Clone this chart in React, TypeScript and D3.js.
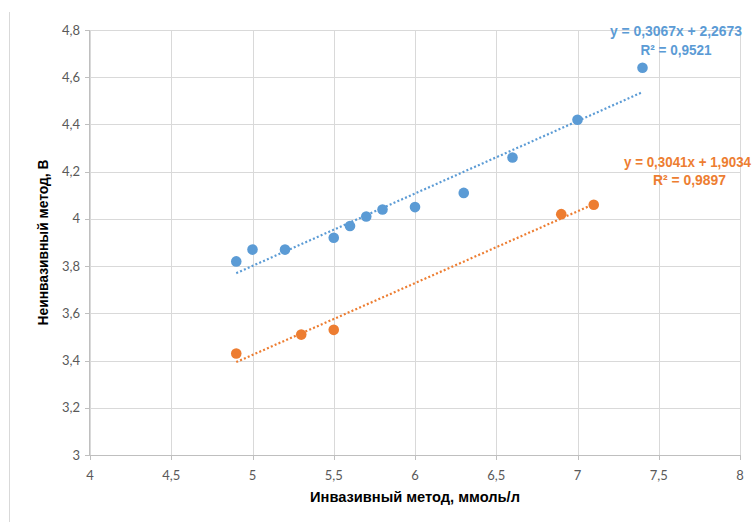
import React from "react";
import * as d3 from "d3";

// invasive (x) vs non-invasive (y)
const blueX = [4.9, 5.0, 5.2, 5.5, 5.6, 5.7, 5.8, 6.0, 6.3, 6.6, 7.0, 7.4];
const blueY = [3.82, 3.87, 3.87, 3.92, 3.97, 4.01, 4.04, 4.05, 4.11, 4.26, 4.42, 4.64];
const orangeX = [4.9, 5.3, 5.5, 6.9, 7.1];
const orangeY = [3.43, 3.51, 3.53, 4.02, 4.06];

// trendline coefficients as printed on the chart
const blueFit = { slope: 0.3067, intercept: 2.2673, r2: 0.9521 };
const orangeFit = { slope: 0.3041, intercept: 1.9034, r2: 0.9897 };

const xTicks = [4, 4.5, 5, 5.5, 6, 6.5, 7, 7.5, 8];
const yTicks = [3, 3.2, 3.4, 3.6, 3.8, 4, 4.2, 4.4, 4.6, 4.8];

const BLUE = "#5b9bd5";
const ORANGE = "#ed7d31";
const W = 753, H = 522;
const margin = { top: 30, right: 13, bottom: 67, left: 90 };
const titleFont = "'Liberation Sans Narrow', 'Liberation Sans', sans-serif";

const fmt = (v: number) => String(v).replace(".", ",");
const fmt4 = (v: number) => v.toFixed(4).replace(".", ",");

export default function App() {
  const x = d3.scaleLinear().domain([4, 8]).range([margin.left, W - margin.right]);
  const y = d3.scaleLinear().domain([3, 4.8]).range([H - margin.bottom, margin.top]);

  const series = [
    { xs: blueX, ys: blueY, fit: blueFit, color: BLUE },
    { xs: orangeX, ys: orangeY, fit: orangeFit, color: ORANGE },
  ];

  return (
    <svg width={W} height={H} style={{ position: "absolute", left: 0, top: 0, background: "#fff" }}>
      <line x1={9.5} x2={9.5} y1={12} y2={H} stroke="#d9d9d9" />
      {/* grid */}
      {xTicks.map((t) => (
        <line key={"gx" + t} x1={Math.round(x(t)) + 0.5} x2={Math.round(x(t)) + 0.5} y1={y(4.8)} y2={y(3)} stroke="#d9d9d9" />
      ))}
      {yTicks.map((t) => (
        <line key={"gy" + t} x1={x(4)} x2={x(8)} y1={Math.round(y(t)) + 0.5} y2={Math.round(y(t)) + 0.5} stroke="#d9d9d9" />
      ))}
      {/* axes */}
      <line x1={x(4) - 0.5} x2={x(4) - 0.5} y1={y(4.8)} y2={y(3)} stroke="#bfbfbf" />
      <line x1={x(4)} x2={x(8)} y1={Math.round(y(3)) + 0.5} y2={Math.round(y(3)) + 0.5} stroke="#bfbfbf" />
      {yTicks.map((t) => (
        <g key={"ty" + t}>
          <line x1={x(4) - 5} x2={x(4)} y1={Math.round(y(t)) + 0.5} y2={Math.round(y(t)) + 0.5} stroke="#bfbfbf" />
          <text x={x(4) - 10} y={y(t)} dy="0.35em" textAnchor="end" fontFamily="Lato, 'Open Sans', sans-serif" fontSize={13} fill="#595959">
            {fmt(t)}
          </text>
        </g>
      ))}
      {xTicks.map((t) => (
        <g key={"tx" + t}>
          <line x1={Math.round(x(t)) + 0.5} x2={Math.round(x(t)) + 0.5} y1={y(3)} y2={y(3) + 5} stroke="#bfbfbf" />
          <text x={x(t)} y={y(3) + 20} dy="0.35em" textAnchor="middle" fontFamily="Lato, 'Open Sans', sans-serif" fontSize={13} fill="#595959">
            {fmt(t)}
          </text>
        </g>
      ))}
      {/* axis titles */}
      <text x={x(6)} y={497} dy="0.35em" textAnchor="middle" fontFamily={titleFont} fontWeight="bold" fontSize={14} fill="#000" textLength={210} lengthAdjust="spacingAndGlyphs">
        Инвазивный метод, ммоль/л
      </text>
      <text transform={`translate(43,${y(3.9)}) rotate(-90)`} dy="0.35em" textAnchor="middle" fontFamily={titleFont} fontWeight="bold" fontSize={14} fill="#000" textLength={166} lengthAdjust="spacingAndGlyphs">
        Неинвазивный метод, В
      </text>
      {/* trendlines and points */}
      {series.map((s, i) => {
        const x0 = d3.min(s.xs)!, x1 = d3.max(s.xs)!;
        const f = (v: number) => s.fit.slope * v + s.fit.intercept;
        const path = d3.line<number>().x((v) => x(v)).y((v) => y(f(v)))([x0, x1]);
        return (
          <g key={"s" + i}>
            <path d={path!} fill="none" stroke={s.color} strokeWidth={2.2} strokeDasharray="2 2.2" />
            {s.xs.map((v, j) => (
              <circle key={j} cx={x(v)} cy={y(s.ys[j])} r={5.3} fill={s.color} />
            ))}
          </g>
        );
      })}
      {/* equation labels */}
      <g fontFamily={titleFont} fontWeight="bold" fontSize={14} fill={BLUE}>
        <text x={676} y={31} dy="0.35em" textAnchor="middle" textLength={132} lengthAdjust="spacingAndGlyphs">
          {`y = ${fmt4(blueFit.slope)}x + ${fmt4(blueFit.intercept)}`}
        </text>
        <text x={676} y={50} dy="0.35em" textAnchor="middle" textLength={71} lengthAdjust="spacingAndGlyphs">
          R² = {fmt4(blueFit.r2)}
        </text>
      </g>
      <g fontFamily={titleFont} fontWeight="bold" fontSize={14} fill={ORANGE}>
        <text x={624} y={162} dy="0.35em" textAnchor="start" textLength={127} lengthAdjust="spacingAndGlyphs">
          {`y = ${fmt4(orangeFit.slope)}x + ${fmt4(orangeFit.intercept)}`}
        </text>
        <text x={653} y={180} dy="0.35em" textAnchor="start" textLength={73} lengthAdjust="spacingAndGlyphs">
          R² = {fmt4(orangeFit.r2)}
        </text>
      </g>
    </svg>
  );
}
